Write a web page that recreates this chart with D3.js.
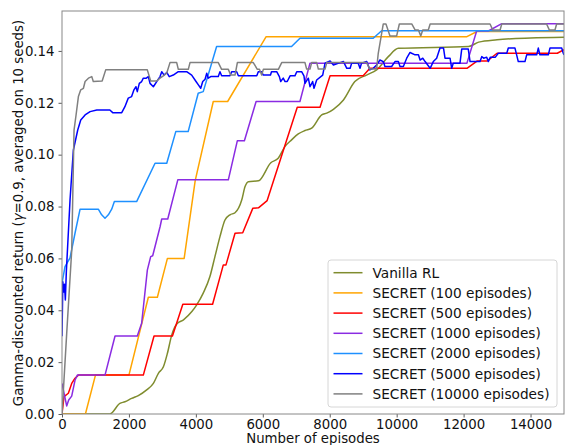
<!DOCTYPE html>
<html><head><meta charset="utf-8">
<script src="https://cdn.jsdelivr.net/npm/d3@7"></script>
<style>body{margin:0;background:#fff}svg{display:block}text{font-family:"DejaVu Sans",sans-serif}</style>
</head><body><div id="chart"></div>
<script>
const xTicks = [0,2000,4000,6000,8000,10000,12000,14000];
const yTicks = [0,0.02,0.04,0.06,0.08,0.10,0.12,0.14];
const seriesNames = ["Vanilla RL","SECRET (100 episodes)","SECRET (500 episodes)","SECRET (1000 episodes)","SECRET (2000 episodes)","SECRET (5000 episodes)","SECRET (10000 episodes)"];
const seriesColors = ["#7f8c2e","orange","red","blueviolet","dodgerblue","blue","gray"];

const vanilla = [[0,0],[1430,0],[1730,0.0041],[1880,0.0047],[2080,0.006],[2280,0.0071],[2530,0.0093],[2730,0.0118],[2880,0.0157],[3030,0.0182],[3150,0.0234],[3280,0.0305],[3430,0.0347],[3630,0.0363],[3880,0.0395],[4020,0.042],[4220,0.0466],[4420,0.053],[4570,0.0607],[4720,0.0684],[4870,0.0748],[5020,0.0768],[5170,0.0776],[5370,0.0825],[5470,0.0877],[5570,0.0896],[5870,0.0899],[6240,0.0969],[6460,0.0986],[6660,0.1031],[6860,0.1057],[7060,0.108],[7260,0.1093],[7460,0.1102],[7760,0.1153],[7910,0.116],[8110,0.1175],[8410,0.1211],[8750,0.1282],[9100,0.1307],[9400,0.1327],[9750,0.1378],[10050,0.141],[12150,0.1417],[12450,0.1434],[13000,0.1443],[14000,0.145],[15000,0.1453]];

const secret100 = [[0,0],[700,0],[1000,0.015],[2000,0.015],[2580,0.045],[2850,0.045],[3150,0.060],[3650,0.060],[3980,0.090],[4520,0.1205],[4950,0.1205],[6100,0.1455],[12100,0.1455],[12400,0.1475],[15000,0.1475]];

const secret500 = [[0,0],[60,0.0067],[190,0.008],[290,0.0118],[390,0.0138],[490,0.015],[2430,0.015],[2750,0.0301],[3300,0.0301],[3610,0.0423],[4500,0.0423],[4820,0.0575],[4900,0.0575],[5170,0.0697],[5400,0.0699],[5700,0.0793],[5870,0.0795],[6130,0.0823],[7030,0.1183],[7710,0.1183],[8010,0.1304],[9000,0.1304],[9200,0.1333],[12100,0.1333],[12400,0.1361],[12700,0.1361],[13000,0.1391],[14800,0.1391],[15000,0.1405]];

const secret1000 = [[0,0.0118],[140,0.0031],[200,0.0054],[290,0.0069],[390,0.0131],[460,0.015],[1285,0.015],[1585,0.0301],[2250,0.0301],[2380,0.035],[2550,0.0555],[2650,0.0607],[2710,0.061],[2930,0.0722],[2980,0.0752],[3160,0.0752],[3460,0.0903],[4970,0.0903],[5240,0.1054],[5450,0.1054],[5800,0.1205],[7110,0.1205],[7410,0.1353],[12100,0.1353],[12390,0.1477],[12740,0.1477],[13140,0.1505],[15000,0.1505]];

const secret2000 = [[0,0.0505],[90,0.0568],[240,0.0602],[390,0.0698],[540,0.079],[1085,0.079],[1185,0.0768],[1285,0.0755],[1385,0.0768],[1485,0.079],[1565,0.0819],[2230,0.0819],[2780,0.0967],[3130,0.0967],[3400,0.1089],[3770,0.1089],[4070,0.1237],[4220,0.1243],[4620,0.1417],[6860,0.1417],[7110,0.1449],[9300,0.1449],[9550,0.1478],[15000,0.1478]];

const secret5000 = [[0,0.030],[25,0.051],[50,0.047],[75,0.050],[100,0.044],[130,0.055],[240,0.0825],[340,0.1018],[470,0.1095],[560,0.1134],[690,0.1153],[840,0.1166],[1040,0.1172],[1430,0.1172],[1515,0.1162],[1785,0.1162],[1880,0.1185],[1980,0.1218],[2080,0.1224],[2150,0.125],[2210,0.1262],[2250,0.1243],[2310,0.1275],[2380,0.1282],[2430,0.1295],[2520,0.1295],[2580,0.1301],[2630,0.1275],[2730,0.1262],[2830,0.1282],[2930,0.1301],[2980,0.132],[3050,0.1307],[3130,0.1317],[3205,0.1301],[3325,0.1307],[3475,0.132],[3725,0.132],[3875,0.1307],[4005,0.1282],[4075,0.1269],[4145,0.1256],[4205,0.1282],[4275,0.1291],[4325,0.1314],[4370,0.1295],[4445,0.1301],[4670,0.1301],[4720,0.132],[4770,0.1304],[5020,0.1304],[5070,0.132],[5220,0.132],[5270,0.1304],[5820,0.1304],[5865,0.132],[5960,0.132],[6015,0.1307],[6230,0.1307],[6260,0.132],[6415,0.132],[6495,0.1301],[6535,0.1282],[6610,0.1295],[6665,0.1282],[6730,0.1282],[6815,0.1304],[6960,0.1304],[7015,0.132],[7160,0.132],[7230,0.1304],[7260,0.1275],[7360,0.1295],[7410,0.1262],[7490,0.1282],[7530,0.1256],[7610,0.1288],[7790,0.1307],[7860,0.1353],[8010,0.1361],[8110,0.1346],[8310,0.1355],[8410,0.1359],[8510,0.1333],[8610,0.1333],[8655,0.1353],[8850,0.1353],[8905,0.1333],[8950,0.1353],[9105,0.1359],[9200,0.1327],[9300,0.1333],[9400,0.1346],[9500,0.1365],[9600,0.1359],[9650,0.134],[9850,0.134],[9950,0.1359],[10050,0.1359],[10100,0.134],[10200,0.134],[10300,0.1372],[10400,0.1394],[10550,0.1385],[10650,0.1385],[10700,0.1365],[10780,0.1372],[10850,0.1359],[11000,0.1333],[11095,0.1359],[11195,0.1372],[11295,0.1411],[11400,0.1411],[11444,0.1372],[11595,0.1372],[11644,0.1333],[11692,0.1353],[11892,0.1353],[11944,0.1407],[12140,0.1407],[12193,0.1359],[12491,0.1359],[12542,0.1378],[12600,0.1372],[12690,0.1376],[12738,0.1359],[12800,0.1376],[12950,0.1376],[13037,0.1391],[13290,0.1391],[13336,0.1411],[13535,0.1411],[13634,0.1359],[13834,0.1359],[13885,0.1385],[14184,0.1385],[14232,0.1411],[14280,0.1385],[14531,0.1385],[14581,0.1411],[14931,0.1411],[14979,0.1391],[15000,0.1385]];

const secret10000 = [[0,0],[140,0.031],[290,0.063],[360,0.1095],[420,0.1153],[490,0.1224],[560,0.125],[640,0.1256],[690,0.1282],[790,0.1295],[890,0.1301],[935,0.1282],[1200,0.1284],[1306,0.1327],[2549,0.1327],[2650,0.1284],[2830,0.1284],[2928,0.1295],[3027,0.1304],[3128,0.1314],[3227,0.1355],[3427,0.1355],[3476,0.1329],[3774,0.1329],[3825,0.1355],[4670,0.1355],[4770,0.1329],[4970,0.1329],[5040,0.1307],[5170,0.1307],[5240,0.1355],[5716,0.1355],[5836,0.1329],[5900,0.1329],[5966,0.1307],[6016,0.1329],[6465,0.1329],[6565,0.1355],[7260,0.1355],[7310,0.1330],[7410,0.1330],[7460,0.1355],[7610,0.1355],[7660,0.1330],[7860,0.1330],[7910,0.1355],[9100,0.1355],[9200,0.1330],[9400,0.1330],[9450,0.1391],[9600,0.1504],[9680,0.1504],[9800,0.1458],[10000,0.1458],[10080,0.1504],[10450,0.1504],[10550,0.1481],[10650,0.1481],[10720,0.1458],[10780,0.1481],[10945,0.1481],[11000,0.1504],[12790,0.1504],[12870,0.1481],[13090,0.1481],[13140,0.1504],[14480,0.1504],[14560,0.1481],[14730,0.1481],[14780,0.1504],[15000,0.1504]];

const allSeries = [vanilla, secret100, secret500, secret1000, secret2000, secret5000, secret10000];

const W = 565, H = 445;
const M = {left: 62, right: 1, top: 11, bottom: 31};
const svg = d3.select("#chart").append("svg").attr("width", W).attr("height", H);
const x = d3.scaleLinear().domain([0, 15000]).range([M.left, W - M.right]);
const y = d3.scaleLinear().domain([0, 0.1554]).range([H - M.bottom, M.top]);

svg.append("clipPath").attr("id","clip").append("rect")
  .attr("x", M.left).attr("y", M.top).attr("width", W - M.right - M.left).attr("height", H - M.bottom - M.top);

const g = svg.append("g").attr("clip-path","url(#clip)");
allSeries.forEach((s, i) => {
  const line = d3.line().x(d => x(d[0])).y(d => y(d[1]))
    .curve(i === 0 ? d3.curveMonotoneX : d3.curveLinear);
  g.append("path").datum(s).attr("d", line).attr("fill","none")
    .attr("stroke", seriesColors[i]).attr("stroke-width", 1.5).attr("stroke-linejoin","round");
});

const xAxis = svg.append("g").attr("transform", `translate(0,${H - M.bottom})`)
  .call(d3.axisBottom(x).tickValues(xTicks).tickFormat(d3.format("d")).tickSize(3.5).tickPadding(2.5));
const yAxis = svg.append("g").attr("transform", `translate(${M.left},0)`)
  .call(d3.axisLeft(y).tickValues(yTicks).tickFormat(d3.format(".2f")).tickSize(3.5).tickPadding(4));
[xAxis, yAxis].forEach(a => {
  a.select(".domain").remove();
  a.selectAll("line").attr("stroke","#333").attr("stroke-width",0.8);
  a.selectAll("text").attr("font-size", 13.3).attr("fill","#111").attr("font-family","DejaVu Sans");
});

svg.append("rect").attr("x", M.left).attr("y", M.top)
  .attr("width", W - M.right - M.left).attr("height", H - M.bottom - M.top)
  .attr("fill","none").attr("stroke","#888").attr("stroke-width",1);

svg.append("text").attr("x", (M.left + W - M.right)/2).attr("y", 442.5)
  .attr("text-anchor","middle").attr("font-size", 13.3).attr("fill","#111").text("Number of episodes");

const yl = svg.append("text").attr("transform","translate(22.5,213) rotate(-90)")
  .attr("text-anchor","middle").attr("font-size", 13.3).attr("fill","#111");
yl.append("tspan").text("Gamma-discounted return (");
yl.append("tspan").attr("font-style","italic").text("γ");
yl.append("tspan").text("=0.9, averaged on 10 seeds)");

const lg = svg.append("g");
lg.append("rect").attr("x",328).attr("y",260).attr("width",229).attr("height",147).attr("rx",3)
  .attr("fill","white").attr("fill-opacity",0.85).attr("stroke","#d6d6d6").attr("stroke-width",1);
seriesNames.forEach((name, i) => {
  const cy = 272.7 + i * 20.2;
  lg.append("line").attr("x1",333.5).attr("x2",362.5).attr("y1",cy).attr("y2",cy)
    .attr("stroke", seriesColors[i]).attr("stroke-width",1.5);
  lg.append("text").attr("x",372.5).attr("y",cy + 4.9).attr("font-size",13.7).attr("fill","#111").text(name);
});
</script></body></html>
